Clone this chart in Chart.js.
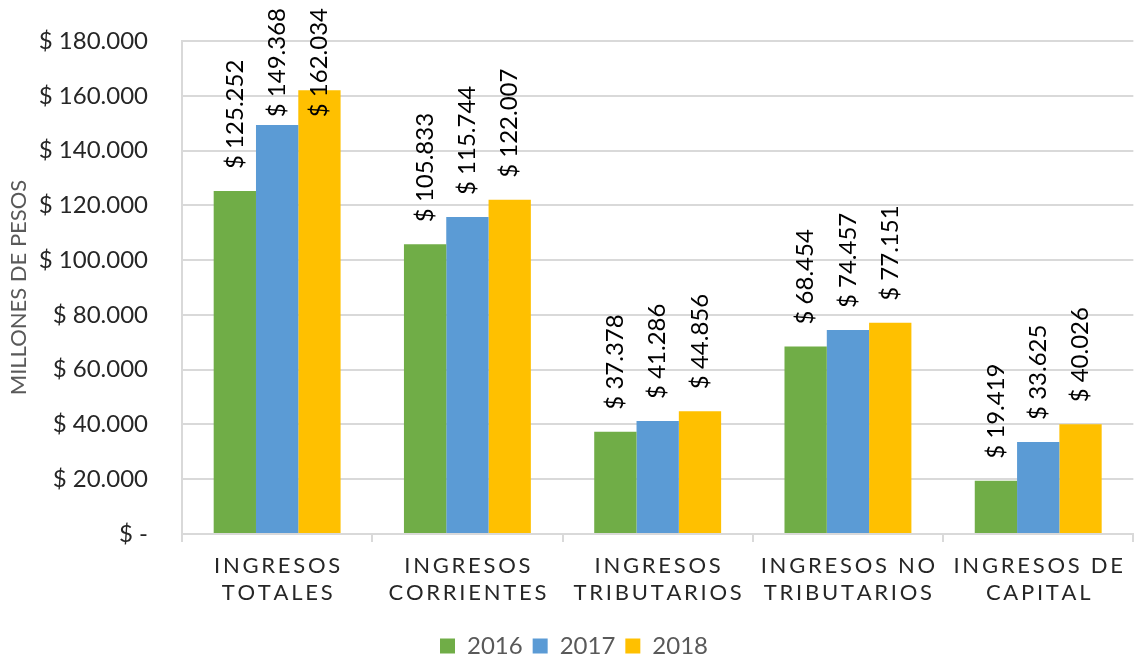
<!DOCTYPE html>
<html lang="es">
  <head>
    <meta charset="UTF-8" />
    <title>Ingresos 2016 - 2018</title>
    <style>
      body { margin: 0; background: #fff; }
      #wrap { width: 1134px; height: 659px; }
    </style>
  </head>
  <body>
    <div id="wrap"><canvas id="barChart" width="1134" height="659"></canvas></div>

    <script src="https://cdn.jsdelivr.net/npm/chart.js"></script>
    <script>
      const categories = [
        ["INGRESOS", "TOTALES"],
        ["INGRESOS", "CORRIENTES"],
        ["INGRESOS", "TRIBUTARIOS"],
        ["INGRESOS NO", "TRIBUTARIOS"],
        ["INGRESOS DE", "CAPITAL"],
      ];
      const years = ["2016", "2017", "2018"];
      const values2016 = [125252, 105833, 37378, 68454, 19419];
      const values2017 = [149368, 115744, 41286, 74457, 33625];
      const values2018 = [162034, 122007, 44856, 77151, 40026];
      const colors = ["#70AD47", "#5B9BD5", "#FFC000"];

      const FONT = "Lato, 'Liberation Sans', sans-serif";

      function pesos(v) {
        if (v === 0) return "$ -";
        return "$ " + v.toLocaleString("de-DE");
      }

      // spread letters out like the original axis labels
      function spaced(s) {
        return s.split("").join("\u2009");
      }

      // vertical value labels above each bar
      const valueLabels = {
        id: "valueLabels",
        afterDatasetsDraw(chart) {
          const ctx = chart.ctx;
          ctx.save();
          ctx.font = "24px " + FONT;
          ctx.fillStyle = "#000";
          ctx.textAlign = "left";
          ctx.textBaseline = "middle";
          chart.data.datasets.forEach((ds, i) => {
            chart.getDatasetMeta(i).data.forEach((bar, j) => {
              const txt = pesos(ds.data[j]);
              const w = ctx.measureText(txt).width;
              let y = bar.y - 22;
              if (y - w < 8) y = 8 + w;
              ctx.save();
              ctx.translate(bar.x, y);
              ctx.rotate(-Math.PI / 2);
              ctx.fillText(txt, 0, 0);
              ctx.restore();
            });
          });
          ctx.restore();
        },
      };

      new Chart(document.getElementById("barChart").getContext("2d"), {
        type: "bar",
        data: {
          labels: categories,
          datasets: [
            { label: years[0], data: values2016, backgroundColor: colors[0] },
            { label: years[1], data: values2017, backgroundColor: colors[1] },
            { label: years[2], data: values2018, backgroundColor: colors[2] },
          ],
        },
        options: {
          responsive: false,
          animation: false,
          layout: { padding: { left: 6, right: -8, top: 41, bottom: -9 } },
          datasets: {
            bar: { categoryPercentage: 0.667, barPercentage: 1.0 },
          },
          scales: {
            x: {
              afterFit(scale) {
                scale.height = 90;
              },
              grid: {
                offset: true,
                drawOnChartArea: false,
                color: "#d9d9d9",
                lineWidth: 2,
                tickLength: 8,
              },
              border: { color: "#d9d9d9", width: 2 },
              ticks: {
                color: "#262626",
                font: { family: FONT, size: 22 },
                padding: 11,
                maxRotation: 0,
                autoSkip: false,
                callback(value) {
                  return categories[value].map(spaced);
                },
              },
            },
            y: {
              min: 0,
              max: 180000,
              afterFit(scale) {
                scale.width = 176;
              },
              ticks: {
                stepSize: 20000,
                color: "#262626",
                font: { family: FONT, size: 24 },
                padding: 0,
                callback: (v) => pesos(v),
              },
              grid: {
                color: "#d9d9d9",
                lineWidth: 2,
                tickLength: 34,
                tickColor: "rgba(0,0,0,0)",
              },
              border: { color: "#d9d9d9", width: 2 },
              title: {
                display: true,
                text: "MILLONES DE PESOS",
                color: "#595959",
                font: { family: FONT, size: 22 },
                padding: 0,
              },
            },
          },
          plugins: {
            legend: {
              position: "bottom",
              labels: {
                color: "#595959",
                font: { family: FONT, size: 24 },
                boxWidth: 15,
                boxHeight: 15,
                padding: 10,
              },
            },
            tooltip: { enabled: false },
          },
        },
        plugins: [valueLabels],
      });
    </script>
  </body>
</html>
